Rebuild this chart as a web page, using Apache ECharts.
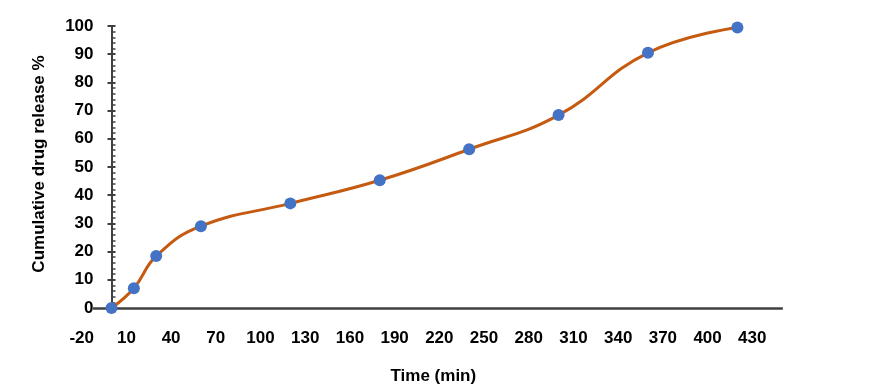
<!DOCTYPE html>
<html>
<head>
<meta charset="utf-8">
<script src="https://cdn.jsdelivr.net/npm/echarts@6/dist/echarts.min.js"></script>
<style>html,body{margin:0;padding:0;background:#fff;}#c{width:870px;height:391px;}</style>
</head>
<body>
<div id="c"></div>
<script>
const timeMin = [0, 15, 30, 60, 120, 180, 240, 300, 360, 420];
const releasePct = [0, 7.0, 18.4, 29.0, 37.1, 45.3, 56.3, 68.4, 90.5, 99.5];
const xTickLabels = [-20, 10, 40, 70, 100, 130, 160, 190, 220, 250, 280, 310, 340, 370, 400, 430];
const yTickLabels = [0, 10, 20, 30, 40, 50, 60, 70, 80, 90, 100];
const xAxisTitle = 'Time (min)';
const yAxisTitle = 'Cumulative drug release %';
const xAxisLineExtent = [-12.4, 450.5];

const font = 'Liberation Sans, Arial, sans-serif';
const axisColor = '#404040';
const gridLeft = 81.7, gridRight = 73, gridTop = 26, gridBottom = 83;
const xMin = xTickLabels[0], xMax = 460;
const plotW = 870 - gridLeft - gridRight;
// pixel distance from the grid's left edge to x = 0
const zeroShift = ((0 - xMin) / (xMax - xMin)) * plotW;
const yMin = yTickLabels[0], yMax = yTickLabels[yTickLabels.length - 1];

const chart = echarts.init(document.getElementById('c'));
const points = timeMin.map((t, i) => [t, releasePct[i]]);
chart.setOption({
  animation: false,
  grid: [
    { left: gridLeft, right: gridRight, top: gridTop, bottom: gridBottom, containLabel: false, outerBoundsMode: 'none' },
    { left: gridLeft + zeroShift, width: 20, top: gridTop, bottom: gridBottom, containLabel: false, outerBoundsMode: 'none' }
  ],
  xAxis: [{
    type: 'value', gridIndex: 0, min: xMin, max: xMax, interval: 30,
    axisLine: { show: false, onZero: false },
    axisTick: { show: false },
    splitLine: { show: false },
    axisLabel: {
      margin: 22, color: '#000', fontFamily: font, fontSize: 17, fontWeight: 'bold',
      formatter: v => xTickLabels.indexOf(v) >= 0 ? String(v) : ''
    },
    name: xAxisTitle, nameLocation: 'middle', nameGap: 60,
    nameTextStyle: { color: '#000', fontFamily: font, fontSize: 17, fontWeight: 'bold', padding: [0, 12, 0, 0] }
  }, {
    type: 'value', gridIndex: 1, min: 0, max: 1, show: false
  }],
  yAxis: [{
    type: 'value', gridIndex: 0, min: yMin, max: yMax, interval: 10,
    position: 'left', offset: -zeroShift,
    axisLine: { show: true, onZero: false, lineStyle: { color: axisColor, width: 2 } },
    axisTick: { show: true, inside: false, length: 4, lineStyle: { color: axisColor, width: 2 } },
    splitLine: { show: false },
    axisLabel: { margin: 18, color: '#000', fontFamily: font, fontSize: 17, fontWeight: 'bold' },
    name: yAxisTitle, nameLocation: 'middle', nameGap: 64, nameRotate: 90,
    nameTextStyle: { color: '#000', fontFamily: font, fontSize: 17, fontWeight: 'bold', padding: [0, 0, 0, 6] }
  }, {
    type: 'value', gridIndex: 1, min: yMin, max: yMax, interval: 10,
    position: 'left',
    axisLine: { show: true, onZero: false, lineStyle: { color: axisColor, width: 2 } },
    axisTick: { show: true, inside: true, length: 4, lineStyle: { color: axisColor, width: 2 } },
    minorTick: { show: true, splitNumber: 5, length: 4, lineStyle: { color: axisColor, width: 1.5 } },
    splitLine: { show: false },
    axisLabel: { show: false }
  }],
  series: [{
    type: 'line',
    xAxisIndex: 0, yAxisIndex: 0,
    data: points,
    smooth: 0.45,
    symbol: 'circle', symbolSize: 12,
    lineStyle: { color: '#C55A11', width: 3 },
    itemStyle: { color: '#4472C4' },
    z: 5,
    markLine: {
      silent: true, symbol: ['none', 'none'], label: { show: false },
      lineStyle: { color: axisColor, width: 2.5, type: 'solid' },
      emphasis: { disabled: true },
      data: [[{ coord: [xAxisLineExtent[0], 0] }, { coord: [xAxisLineExtent[1], 0] }]]
    }
  }]
});
</script>
</body>
</html>
